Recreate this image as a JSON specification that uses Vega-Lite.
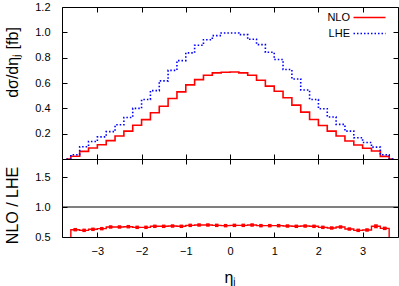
{
  "$schema": "https://vega.github.io/schema/vega-lite/v6.json",
  "background": "white",
  "padding": {"left": 3, "top": 0, "right": 0, "bottom": 0},
  "spacing": 0,
  "bounds": "flush",
  "datasets": {
    "h": [
      {"eta": -3.7, "NLO": 0, "LHE": 0, "ratio": 0, "err": 0},
      {"eta": -3.5, "NLO": 0.022, "LHE": 0.034, "ratio": 0.622, "err": 0.01},
      {"eta": -3.3, "NLO": 0.060, "LHE": 0.097, "ratio": 0.611, "err": 0.008},
      {"eta": -3.1, "NLO": 0.087, "LHE": 0.138, "ratio": 0.628, "err": 0.007},
      {"eta": -2.9, "NLO": 0.113, "LHE": 0.175, "ratio": 0.639, "err": 0.006},
      {"eta": -2.7, "NLO": 0.145, "LHE": 0.216, "ratio": 0.667, "err": 0.006},
      {"eta": -2.5, "NLO": 0.181, "LHE": 0.270, "ratio": 0.667, "err": 0.005},
      {"eta": -2.3, "NLO": 0.220, "LHE": 0.328, "ratio": 0.672, "err": 0.005},
      {"eta": -2.1, "NLO": 0.266, "LHE": 0.400, "ratio": 0.661, "err": 0.005},
      {"eta": -1.9, "NLO": 0.311, "LHE": 0.470, "ratio": 0.661, "err": 0.005},
      {"eta": -1.7, "NLO": 0.365, "LHE": 0.540, "ratio": 0.678, "err": 0.005},
      {"eta": -1.5, "NLO": 0.417, "LHE": 0.617, "ratio": 0.678, "err": 0.005},
      {"eta": -1.3, "NLO": 0.478, "LHE": 0.700, "ratio": 0.683, "err": 0.005},
      {"eta": -1.1, "NLO": 0.530, "LHE": 0.777, "ratio": 0.678, "err": 0.005},
      {"eta": -0.9, "NLO": 0.585, "LHE": 0.838, "ratio": 0.694, "err": 0.005},
      {"eta": -0.7, "NLO": 0.627, "LHE": 0.898, "ratio": 0.700, "err": 0.005},
      {"eta": -0.5, "NLO": 0.661, "LHE": 0.942, "ratio": 0.700, "err": 0.005},
      {"eta": -0.3, "NLO": 0.680, "LHE": 0.974, "ratio": 0.694, "err": 0.005},
      {"eta": -0.1, "NLO": 0.685, "LHE": 0.995, "ratio": 0.689, "err": 0.005},
      {"eta": 0.1, "NLO": 0.687, "LHE": 0.995, "ratio": 0.694, "err": 0.005},
      {"eta": 0.3, "NLO": 0.680, "LHE": 0.982, "ratio": 0.694, "err": 0.005},
      {"eta": 0.5, "NLO": 0.661, "LHE": 0.945, "ratio": 0.700, "err": 0.005},
      {"eta": 0.7, "NLO": 0.622, "LHE": 0.903, "ratio": 0.689, "err": 0.005},
      {"eta": 0.9, "NLO": 0.575, "LHE": 0.843, "ratio": 0.689, "err": 0.005},
      {"eta": 1.1, "NLO": 0.535, "LHE": 0.785, "ratio": 0.689, "err": 0.005},
      {"eta": 1.3, "NLO": 0.483, "LHE": 0.706, "ratio": 0.683, "err": 0.005},
      {"eta": 1.5, "NLO": 0.425, "LHE": 0.632, "ratio": 0.678, "err": 0.005},
      {"eta": 1.7, "NLO": 0.370, "LHE": 0.545, "ratio": 0.683, "err": 0.005},
      {"eta": 1.9, "NLO": 0.312, "LHE": 0.470, "ratio": 0.678, "err": 0.005},
      {"eta": 2.1, "NLO": 0.265, "LHE": 0.397, "ratio": 0.661, "err": 0.005},
      {"eta": 2.3, "NLO": 0.220, "LHE": 0.331, "ratio": 0.650, "err": 0.006},
      {"eta": 2.5, "NLO": 0.181, "LHE": 0.273, "ratio": 0.667, "err": 0.006},
      {"eta": 2.7, "NLO": 0.142, "LHE": 0.220, "ratio": 0.633, "err": 0.007},
      {"eta": 2.9, "NLO": 0.110, "LHE": 0.168, "ratio": 0.611, "err": 0.008},
      {"eta": 3.1, "NLO": 0.085, "LHE": 0.130, "ratio": 0.617, "err": 0.01},
      {"eta": 3.3, "NLO": 0.063, "LHE": 0.094, "ratio": 0.678, "err": 0.025},
      {"eta": 3.5, "NLO": 0.021, "LHE": 0.033, "ratio": 0.644, "err": 0.015},
      {"eta": 3.7, "NLO": 0, "LHE": 0, "ratio": 0, "err": 0}
    ],
    "ref": [{"one": 1}]
  },
  "config": {
    "font": "Liberation Sans",
    "view": {"stroke": "black", "strokeWidth": 1},
    "concat": {"spacing": 0},
    "axis": {
      "grid": false,
      "domain": false,
      "ticks": true,
      "tickColor": "black",
      "tickSize": -5,
      "labelColor": "black",
      "labelFont": "Liberation Sans",
      "labelFontSize": 11,
      "titleColor": "black",
      "titleFont": "Liberation Sans",
      "titleFontWeight": "normal"
    },
    "legend": {
      "labelFont": "Liberation Sans",
      "labelFontSize": 11,
      "labelColor": "black"
    }
  },
  "vconcat": [
    {
      "width": 336,
      "height": 152,
      "data": {"name": "h"},
      "transform": [{"fold": ["NLO", "LHE"], "as": ["series", "val"]}],
      "layer": [
        {
          "mark": {"type": "line", "interpolate": "step", "clip": true, "strokeWidth": 1.6},
          "encoding": {
            "x": {
              "field": "eta", "type": "quantitative",
              "scale": {"domain": [-3.8, 3.8], "nice": false, "zero": false},
              "axis": {"values": [-3, -2, -1, 0, 1, 2, 3], "labels": false, "title": null, "minExtent": 0, "maxExtent": 0, "labelPadding": 0}
            },
            "y": {
              "field": "val", "type": "quantitative",
              "scale": {"domain": [0, 1.2], "nice": false},
              "axis": {
                "values": [0.2, 0.4, 0.6, 0.8, 1.0, 1.2], "format": ".1f",
                "labelPadding": 17,
                "title": "dσ/dηⱼ [fb]", "titleFontSize": 16,
                "titleX": -42, "titleY": 55
              }
            },
            "color": {
              "field": "series", "type": "nominal",
              "scale": {"domain": ["NLO", "LHE"], "range": ["#ff0000", "#0000ff"]},
              "legend": {
                "title": null, "orient": "none", "legendX": 302, "legendY": 5,
                "symbolType": "M-4,0H4", "symbolSize": 64, "symbolStrokeWidth": 1.6,
                "labelAlign": "right", "labelOffset": -25, "rowPadding": 4
              }
            },
            "strokeDash": {
              "field": "series", "type": "nominal",
              "scale": {"domain": ["NLO", "LHE"], "range": [[1, 0], [1.5, 2]]},
              "legend": {
                "title": null, "orient": "none", "legendX": 302, "legendY": 5,
                "symbolType": "M-4,0H4", "symbolSize": 64, "symbolStrokeWidth": 1.6,
                "labelAlign": "right", "labelOffset": -25, "rowPadding": 4
              }
            }
          }
        },
        {
          "mark": {"type": "point", "opacity": 0},
          "encoding": {
            "x": {
              "field": "eta", "type": "quantitative",
              "axis": {"orient": "top", "values": [-3, -2, -1, 0, 1, 2, 3], "labels": false, "title": null, "minExtent": 0, "maxExtent": 0, "labelPadding": 0}
            },
            "y": {
              "field": "val", "type": "quantitative",
              "axis": {"orient": "right", "values": [0.2, 0.4, 0.6, 0.8, 1.0, 1.2], "labels": false, "title": null, "minExtent": 0, "maxExtent": 0, "labelPadding": 0}
            }
          }
        }
      ],
      "resolve": {"axis": {"x": "independent", "y": "independent"}}
    },
    {
      "width": 336,
      "height": 78,
      "data": {"name": "h"},
      "layer": [
        {
          "mark": {"type": "line", "interpolate": "step", "clip": true, "color": "#ff0000", "strokeWidth": 1.4},
          "encoding": {
            "x": {
              "field": "eta", "type": "quantitative",
              "scale": {"domain": [-3.8, 3.8], "nice": false, "zero": false},
              "axis": {
                "values": [-3, -2, -1, 0, 1, 2, 3], "labelPadding": 13,
                "title": "ηⱼ", "titleFontSize": 16, "titlePadding": 13
              }
            },
            "y": {
              "field": "ratio", "type": "quantitative",
              "scale": {"domain": [0.5, 1.8], "nice": false, "zero": false},
              "axis": {
                "values": [0.5, 1.0, 1.5], "format": ".1f",
                "labelPadding": 17,
                "title": "NLO / LHE", "titleFontSize": 16,
                "titleX": -42, "titleY": 46
              }
            }
          }
        },
        {
          "data": {"name": "ref"},
          "mark": {"type": "rule", "color": "black", "strokeWidth": 1},
          "encoding": {"y": {"field": "one", "type": "quantitative", "axis": null}}
        },
        {
          "transform": [{"filter": "datum.err > 0"}],
          "mark": {"type": "errorbar", "ticks": {"size": 4, "color": "#ff0000"}, "color": "#ff0000", "thickness": 1},
          "encoding": {
            "x": {"field": "eta", "type": "quantitative", "axis": null},
            "y": {"field": "ratio", "type": "quantitative", "axis": null},
            "yError": {"field": "err"}
          }
        },
        {
          "transform": [{"filter": "datum.err > 0"}],
          "mark": {"type": "point", "shape": "square", "filled": true, "size": 12, "color": "#ff0000", "opacity": 1},
          "encoding": {
            "x": {"field": "eta", "type": "quantitative", "axis": null},
            "y": {"field": "ratio", "type": "quantitative", "axis": null}
          }
        },
        {
          "mark": {"type": "point", "opacity": 0},
          "encoding": {
            "x": {
              "field": "eta", "type": "quantitative",
              "axis": {"orient": "top", "values": [-3, -2, -1, 0, 1, 2, 3], "labels": false, "title": null, "minExtent": 0, "maxExtent": 0, "labelPadding": 0}
            },
            "y": {
              "field": "ratio", "type": "quantitative",
              "axis": {"orient": "right", "values": [0.5, 1.0, 1.5], "labels": false, "title": null, "minExtent": 0, "maxExtent": 0, "labelPadding": 0}
            }
          }
        }
      ],
      "resolve": {"axis": {"x": "independent", "y": "independent"}}
    }
  ]
}
